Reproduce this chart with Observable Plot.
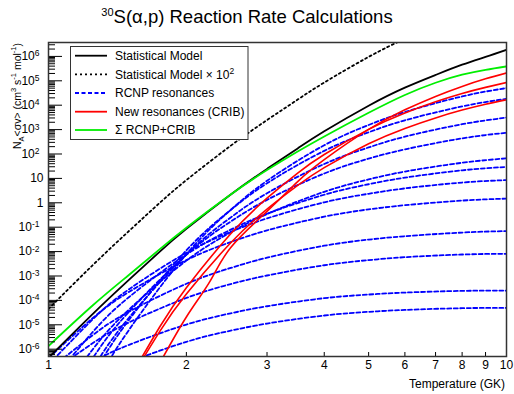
<!DOCTYPE html>
<html><head><meta charset="utf-8">
<script src="https://cdn.jsdelivr.net/npm/d3@7"></script>
<script src="https://cdn.jsdelivr.net/npm/@observablehq/plot@0.6"></script>
<style>
body{margin:0;background:#fff;}
#chart{width:514px;height:394px;}
</style>
</head><body><div id="chart"></div>
<script>
// Temperature grids (GK)
const tempSM = [1, 1.25, 1.5, 1.75, 2, 2.5, 3, 3.5, 4, 5, 6, 7, 8, 9, 10];
const tempBlue = [1, 1.25, 1.5, 2, 2.5, 3, 4, 5, 6, 8, 10];
// log10 of N_A<sigma v>
const statModelLog = [-6.35, -4.55, -3.15, -2.0, -1.07, 0.34, 1.39, 2.23, 2.93, 3.98, 4.72, 5.24, 5.66, 5.98, 6.27];
const sumLog = [-5.87, -4.2, -2.95, -1.9, -1.02, 0.34, 1.34, 2.1, 2.72, 3.69, 4.42, 4.92, 5.25, 5.45, 5.59];
const statScale = 100; // "Statistical Model x 10^2"

const tempRedA = [1.5, 1.75, 2, 2.5, 3, 3.5, 4, 5, 6, 7, 8, 9, 10];
const redALog = [-7.23, -5.08, -3.48, -1.27, 0.19, 1.22, 1.98, 3.01, 3.68, 4.14, 4.48, 4.73, 4.93];
const tempRedB = [1.5, 1.75, 2, 2.5, 3, 3.5, 4, 5, 6, 7, 8, 9, 10];
const redBLog = [-7.31, -5.27, -3.74, -1.64, -0.26, 0.71, 1.44, 2.42, 3.05, 3.48, 3.8, 4.04, 4.22];
const tempRedC = [1.75, 2, 2.25, 2.5, 3, 3.5, 4, 5, 6, 7, 8, 9, 10];
const redCLog = [-6.57, -4.68, -3.23, -1.83, -0.35, 0.87, 1.77, 3.01, 3.81, 4.36, 4.77, 5.08, 5.32];

const blue1 = [-11.5, -7.7, -5.2, -2.11, -0.29, 0.90, 2.36, 3.19, 3.72, 4.36, 4.70];
const blue2 = [-10.6, -7.1, -4.79, -1.95, -0.29, 0.80, 2.13, 2.89, 3.38, 3.95, 4.26];
const blue3 = [-9.98, -6.8, -4.70, -2.12, -0.6, 0.39, 1.59, 2.27, 2.71, 3.22, 3.49];
const blue4 = [-9.24, -6.36, -4.46, -2.13, -0.77, 0.12, 1.2, 1.81, 2.19, 2.64, 2.87];
const blue5 = [-8.47, -6.0, -4.37, -2.37, -1.21, -0.46, 0.45, 0.96, 1.28, 1.64, 1.82];
const blue6 = [-7.46, -5.29, -3.86, -2.12, -1.1, -0.45, 0.33, 0.76, 1.03, 1.33, 1.47];
const blue7 = [-6.64, -4.77, -3.54, -2.05, -1.19, -0.64, 0.02, 0.37, 0.59, 0.83, 0.93];
const blue8 = [-6.36, -4.72, -3.65, -2.35, -1.61, -1.13, -0.57, -0.27, -0.1, 0.09, 0.17];
const blue9 = [-6.87, -5.42, -4.46, -3.32, -2.67, -2.25, -1.76, -1.51, -1.37, -1.22, -1.16];
const blue10 = [-7.03, -5.75, -4.9, -3.9, -3.33, -2.98, -2.56, -2.35, -2.23, -2.12, -2.09];
const blue11 = [-7.59, -6.52, -5.82, -4.99, -4.53, -4.24, -3.91, -3.76, -3.68, -3.61, -3.60];
const blue12 = [-8.3, -7.23, -6.53, -5.7, -5.24, -4.95, -4.62, -4.47, -4.39, -4.32, -4.31];

const xTicks = [1, 2, 3, 4, 5, 6, 7, 8, 9, 10];
const yExponents = [-6, -5, -4, -3, -2, -1, 0, 1, 2, 3, 4, 5, 6];

const legendLabels = ["Statistical Model", "Statistical Model \u00d7 10^2", "RCNP resonances", "New resonances (CRIB)", "\u03a3 RCNP+CRIB"];

function rows(name, temps, logs, scale = 1) {
  return temps.map((t, i) => ({name, T: t, rate: Math.pow(10, logs[i]) * scale}));
}
const blueRows = [blue1, blue2, blue3, blue4, blue5, blue6, blue7, blue8, blue9, blue10, blue11, blue12]
  .flatMap((b, k) => rows("b" + k, tempBlue, b));
const redRows = [...rows("rA", tempRedA, redALog), ...rows("rB", tempRedB, redBLog), ...rows("rC", tempRedC, redCLog)];
const smRows = rows("sm", tempSM, statModelLog);
const smScaledRows = rows("sm100", tempSM, statModelLog, statScale);
const sumRows = rows("sum", tempSM, sumLog);

const yMajors = yExponents.map(e => Math.pow(10, e));
const yMinors = [];
for (let e = -7; e <= 6; e++) for (let k = 2; k <= 9; k++) {
  const v = k * Math.pow(10, e);
  if (v > Math.pow(10, -6.3) && v < Math.pow(10, 6.57)) yMinors.push(v);
}
const fmtY = d => { const e = Math.round(Math.log10(d)); return e === 0 ? "1" : e === 1 ? "10" : "10^" + e; };

const common = {x: "T", y: "rate", curve: "natural", clip: true};
const chart = Plot.plot({
  width: 514, height: 394,
  marginLeft: 48, marginRight: 8, marginTop: 42, marginBottom: 38,
  style: {fontFamily: "'Liberation Sans', Arial, sans-serif", fontSize: "12px", background: "#fff", color: "#000"},
  x: {type: "log", domain: [1, 10]},
  y: {type: "log", domain: [Math.pow(10, -6.3), Math.pow(10, 6.57)]},
  marks: [
    Plot.line(blueRows, {...common, z: "name", stroke: "#0000ff", strokeWidth: 1.8, strokeDasharray: "4,2.5"}),
    Plot.line(redRows, {...common, z: "name", stroke: "#ff0000", strokeWidth: 1.6}),
    Plot.line(smScaledRows, {...common, stroke: "#000", strokeWidth: 1.8, strokeDasharray: "2,3"}),
    Plot.line(smRows, {...common, stroke: "#000", strokeWidth: 1.8}),
    Plot.line(sumRows, {...common, stroke: "#00ee00", strokeWidth: 1.8}),
    Plot.axisY({ticks: yMinors, tickSize: -7, tickFormat: () => "", label: null}),
    Plot.axisY({ticks: yMajors, tickSize: -14, tickPadding: 19, tickFormat: fmtY, label: null, fontSize: 12}),
    Plot.axisX({ticks: xTicks, tickSize: -4, tickPadding: 8, tickFormat: d => String(d), label: null, fontSize: 12}),
    Plot.frame({stroke: "#333", strokeWidth: 1.5})
  ]
});
document.getElementById("chart").appendChild(chart);

const svg = d3.select(chart);
// superscripts on y tick labels
svg.selectAll('g[aria-label="y-axis tick label"] text').each(function () {
  const s = this.textContent;
  if (s.includes("^")) {
    const [b, e] = s.split("^");
    const t = d3.select(this);
    t.text(null);
    t.attr("dx", (+t.attr("dx") || 0) - 4);
    t.append("tspan").text(b);
    t.append("tspan").attr("dy", "-0.45em").attr("font-size", "8.5px").text(e);
  }
});

// title
const title = svg.append("text").attr("x", 247).attr("y", 23).attr("text-anchor", "middle")
  .attr("font-size", "18.5px").attr("fill", "#000");
title.append("tspan").attr("font-size", "11px").attr("dy", "-7").text("30");
title.append("tspan").attr("dy", "7").text("S(\u03b1,p) Reaction Rate Calculations");

// x axis title
svg.append("text").attr("x", 505).attr("y", 388).attr("text-anchor", "end").attr("font-size", "12px").text("Temperature (GK)");

// y axis title
const yl = svg.append("text").attr("transform", "translate(20.5,43) rotate(-90)").attr("text-anchor", "end").attr("font-size", "10.5px");
yl.append("tspan").text("N");
yl.append("tspan").attr("font-size", "7.5px").attr("dy", "3").text("A");
yl.append("tspan").attr("dy", "-3").text("<\u03c3v> (cm");
yl.append("tspan").attr("font-size", "7.5px").attr("dy", "-5").text("3");
yl.append("tspan").attr("dy", "5").text(" s");
yl.append("tspan").attr("font-size", "7.5px").attr("dy", "-5").text("-1");
yl.append("tspan").attr("dy", "5").text(" mol");
yl.append("tspan").attr("font-size", "7.5px").attr("dy", "-5").text("-1");
yl.append("tspan").attr("dy", "5").text(")");

// legend
const lg = svg.append("g").attr("text-anchor", "start");
lg.append("rect").attr("x", 70.5).attr("y", 46.5).attr("width", 177.5).attr("height", 93)
  .attr("fill", "#fff").attr("stroke", "#333").attr("stroke-width", 1);
const legendStyles = [
  {stroke: "#000", dash: null},
  {stroke: "#000", dash: "2,3"},
  {stroke: "#0000ff", dash: "4,2.5"},
  {stroke: "#ff0000", dash: null},
  {stroke: "#00ee00", dash: null}
];
const legendY = [55.7, 74.3, 93, 111.7, 130];
legendLabels.forEach((lab, i) => {
  const y = legendY[i];
  lg.append("line").attr("x1", 75).attr("x2", 107).attr("y1", y).attr("y2", y)
    .attr("stroke", legendStyles[i].stroke).attr("stroke-width", 1.8)
    .attr("stroke-dasharray", legendStyles[i].dash);
  const t = lg.append("text").attr("x", 115).attr("y", y + 4.3).attr("font-size", "12px").attr("text-anchor", "start");
  if (lab.includes("^")) {
    const [a, b] = lab.split("^");
    t.append("tspan").text(a);
    t.append("tspan").attr("dy", "-5").attr("font-size", "8.5px").text(b);
  } else t.text(lab);
});
</script>
</body></html>
